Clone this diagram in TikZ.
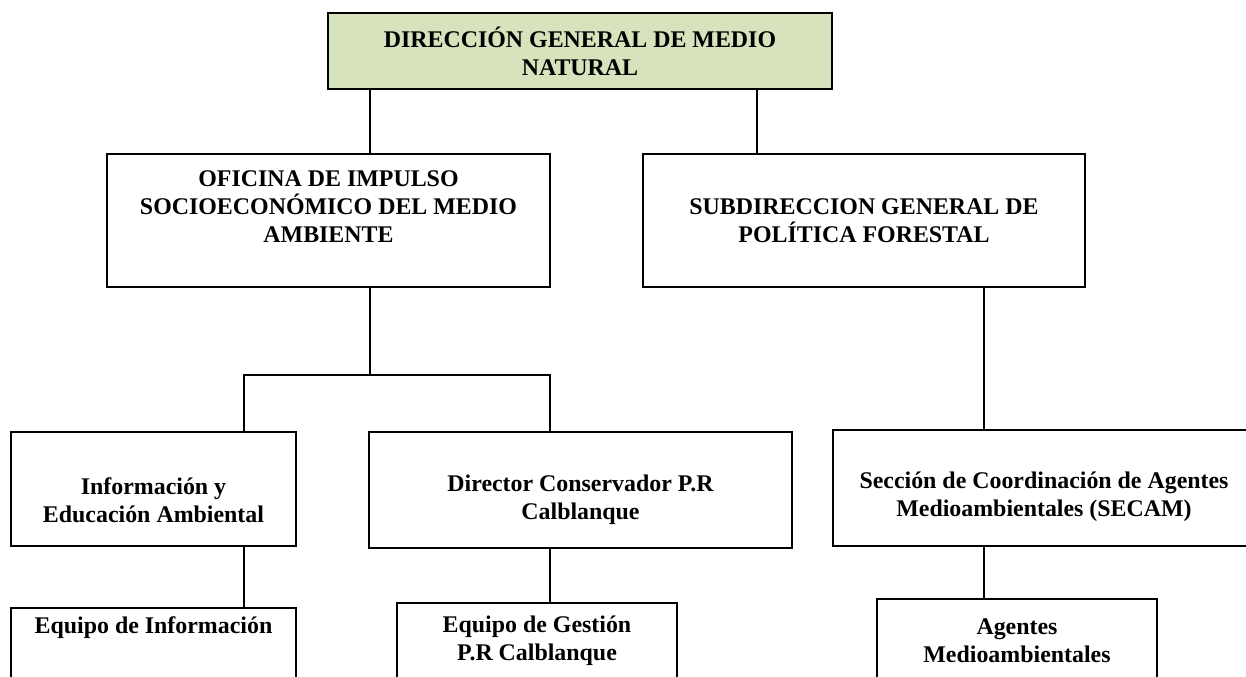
\documentclass[tikz,border=0pt]{standalone}
\usepackage{fontspec}
\setmainfont{Liberation Serif}
\usetikzlibrary{positioning, calc}
\definecolor{dirgreen}{HTML}{D6E3BC}
\newcommand{\OrgFont}{\fontsize{13.6pt}{15.9pt}\selectfont\bfseries}
\tikzset{
    orgbox/.style={draw, line width=1.1pt, inner sep=0pt, font=\OrgFont, align=center},
    orglabel/.style={font=\OrgFont, align=center, inner sep=0pt},
    link/.style={line width=1pt},
}

\begin{document}
\begin{tikzpicture}[x=0.02cm, y=-0.02cm]
    \useasboundingbox (0,0) rectangle (1246,676);
    \clip (0,0) rectangle (1246,676);

    \node[orgbox, fill=dirgreen, minimum width=10.08cm, minimum height=1.52cm] (dgmn) at (580,51) {DIRECCIÓN GENERAL DE MEDIO\\NATURAL};

    \node[orgbox, minimum width=8.86cm, minimum height=2.66cm,
      label={[orglabel, yshift=0.28cm]center:{OFICINA DE IMPULSO\\SOCIOECONÓMICO DEL MEDIO\\AMBIENTE}}] (oficina) at (328.5,220.5) {};
    \node[orgbox, minimum width=8.84cm, minimum height=2.66cm] (subdir) at (864,220.5) {SUBDIRECCION GENERAL DE\\POLÍTICA FORESTAL};

    \node[orgbox, minimum width=5.7cm, minimum height=2.28cm,
      label={[orglabel, yshift=-0.22cm]center:{Información y\\Educación Ambiental}}] (infoed) at (153.5,489) {};
    \node[orgbox, minimum width=8.46cm, minimum height=2.32cm,
      label={[orglabel, yshift=-0.2cm]center:{Director Conservador P.R\\Calblanque}}] (director) at (580.5,490) {};
    \node[orgbox, minimum width=8.44cm, minimum height=2.32cm,
      label={[orglabel, yshift=-0.18cm]center:{Sección de Coordinación de Agentes\\Medioambientales (SECAM)}}] (secam) at (1044,488) {};

    % bottom row runs past the page edge
    \node[orgbox, minimum width=5.7cm, minimum height=1.84cm,
      label={[orglabel, yshift=0.52cm]center:{Equipo de Información}}] (eqinfo) at (153.5,654) {};
    \node[orgbox, minimum width=5.6cm, minimum height=1.94cm,
      label={[orglabel, yshift=0.21cm]center:{Equipo de Gestión\\P.R Calblanque}}] (eqgest) at (537,651.5) {};
    \node[orgbox, minimum width=5.6cm, minimum height=2.02cm,
      label={[orglabel, yshift=0.17cm]center:{Agentes\\Medioambientales}}] (agentes) at (1017,649.5) {};

    \coordinate (xl) at (370,0);
    \coordinate (xr) at (757,0);
    \coordinate (xa) at (244,0);
    \coordinate (xb) at (550,0);
    \coordinate (xs) at (984,0);
    \coordinate (fork) at (370,375);

    \draw[link] (xl |- dgmn.south) -- (xl |- oficina.north);
    \draw[link] (xr |- dgmn.south) -- (xr |- subdir.north);
    \draw[link] (xl |- oficina.south) -- (fork);
    \draw[link] (xa |- infoed.north) -- (xa |- fork) -- (xb |- fork) -- (xb |- director.north);
    \draw[link] (xa |- infoed.south) -- (xa |- eqinfo.north);
    \draw[link] (xb |- director.south) -- (xb |- eqgest.north);
    \draw[link] (xs |- subdir.south) -- (xs |- secam.north);
    \draw[link] (xs |- secam.south) -- (xs |- agentes.north);
\end{tikzpicture}
\end{document}
